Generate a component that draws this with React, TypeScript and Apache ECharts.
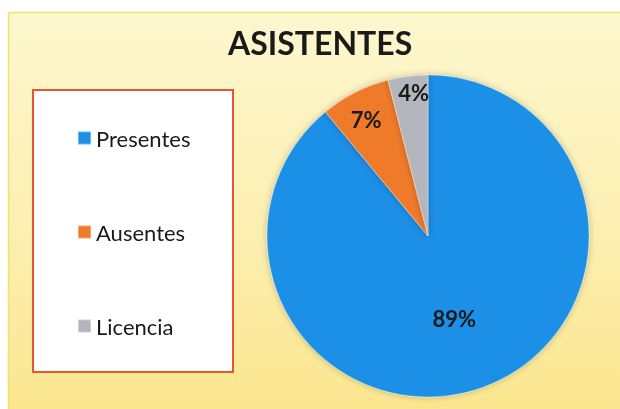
import React, { useEffect, useRef } from "react";
import * as echarts from "echarts";

const categories = ["Presentes", "Ausentes", "Licencia"];
const values = [89, 7, 4];
const colors = ["#1e8fe6", "#ef7a2c", "#b4b6bd"];
const labelOffsets: [number, number][] = [[-2, 4], [-24, -42], [-4, -61]];

export default function App() {
  const ref = useRef<HTMLDivElement>(null);
  useEffect(() => {
    if (!ref.current) return;
    const chart = echarts.init(ref.current, undefined, { renderer: "svg" });
    const font = "Lato, 'Open Sans', sans-serif";
    chart.setOption({
      animation: false,
      graphic: [
        {
          type: "rect",
          z: -10,
          shape: { x: 8.5, y: 12.5, width: 620, height: 400 },
          style: {
            fill: {
              type: "linear", x: 0, y: 0, x2: 0, y2: 1,
              colorStops: [
                { offset: 0, color: "#fdf7cf" },
                { offset: 0.5, color: "#fcf0b4" },
                { offset: 1, color: "#fbe68e" },
              ],
            },
            stroke: "#f4e16a",
            lineWidth: 1.5,
          },
        },
        {
          type: "rect",
          z: -5,
          shape: { x: 33, y: 90, width: 200, height: 282 },
          style: { fill: "#ffffff", stroke: "#e8552e", lineWidth: 2 },
        },
      ],
      title: {
        text: "ASISTENTES",
        left: 223,
        top: 21,
        textStyle: { fontFamily: font, fontSize: 32, fontWeight: "bold", color: "#1a1a1a" },
      },
      legend: {
        orient: "vertical",
        left: 72,
        top: 121,
        itemWidth: 13,
        itemHeight: 13,
        itemGap: 70,
        icon: "rect",
        data: categories,
        textStyle: { fontFamily: font, fontSize: 22, color: "#1a1a1a", lineHeight: 24 },
      },
      series: [
        {
          type: "pie",
          center: [428, 236],
          radius: 161,
          startAngle: 90,
          clockwise: true,
          label: {
            show: true,
            position: "inside",
            formatter: "{c}%",
            fontFamily: font,
            fontSize: 22,
            fontWeight: "bold",
            color: "#1a1a1a",
          },
          labelLine: { show: false },
          itemStyle: {
            borderColor: "rgba(255,255,255,0.35)",
            borderWidth: 1,
            shadowBlur: 6,
            shadowColor: "rgba(0,0,0,0.25)",
          },
          emphasis: { disabled: true },
          data: categories.map((name, i) => ({
            name,
            value: values[i],
            itemStyle: { color: colors[i] },
            label: { offset: labelOffsets[i] },
          })),
        },
      ],
    });
    return () => chart.dispose();
  }, []);
  return <div ref={ref} style={{ position: "fixed", left: 0, top: 0, width: 620, height: 409 }} />;
}
